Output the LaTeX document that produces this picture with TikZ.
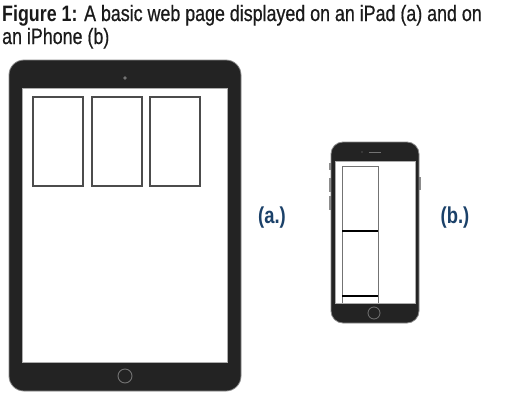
\documentclass[tikz,border=0pt]{standalone}
\usepackage{fontspec}
\setmainfont{Liberation Sans}[FakeStretch=0.80]
\newfontfamily\ttlfont{Liberation Sans}[FakeStretch=0.80, FakeBold=0.6, BoldFeatures={FakeBold=0}]
\newfontfamily\lblfont{Liberation Sans}[FakeStretch=0.80]
\definecolor{body}{HTML}{232323}
\definecolor{rim}{HTML}{8A8A8A}
\definecolor{lbl}{HTML}{1B4169}
\definecolor{ttl}{HTML}{1A1A1A}
\tikzset{
  device/.style={fill=body, draw=rim, line width=0.8pt},
  screen/.style={fill=white, draw=rim!70, line width=0.6pt},
  pane/.style={draw=black!70, line width=1.1pt},
  divider/.style={draw=black, line width=1.6pt},
  btn/.style={draw=black!55, line width=0.9pt},
  sidebtn/.style={draw=black!45, line width=1.4pt},
  label/.style={text=lbl, font=\lblfont\bfseries\fontsize{23}{26}\selectfont, inner sep=0pt},
  title/.style={text=ttl, font=\ttlfont\fontsize{22.3}{26}\selectfont, inner sep=0pt, anchor=base west}
}
\begin{document}
\begin{tikzpicture}[x=1pt,y=-1pt]
\useasboundingbox[fill=white] (0,0) rectangle (515,400);
% title
\node[title] (t1) at (2,21) {\textbf{Figure 1:} A basic web page displayed on an iPad (a) and on};
\node[title] (t2) at (2,44) {an iPhone (b)};
% iPad
\draw[device, rounded corners=15pt] (9,60) rectangle (241,391);
\draw[screen] (22,88) rectangle (227,362);
\fill[black!55] (125,78) circle (1.8pt);
\draw[btn] (125,376) circle (7pt);
\draw[pane] (33,97) rectangle (83,186);
\draw[pane] (92,97) rectangle (142,186);
\draw[pane] (150,97) rectangle (200,186);
% iPhone
\draw[sidebtn] (330,163) -- (330,170);
\draw[sidebtn] (330,178) -- (330,192);
\draw[sidebtn] (330,196) -- (330,210);
\draw[sidebtn] (420,177) -- (420,190);
\draw[device, rounded corners=12pt] (331,142) rectangle (419,323);
\draw[screen] (335,161) rectangle (415,303);
\draw[line width=1pt, black!55] (369,152) -- (381,152);
\fill[black!50] (362,152) circle (0.6pt);
\draw[btn, line width=0.8pt] (374,313) circle (6pt);
\draw[draw=black!55, line width=1pt] (342,303) -- (342,166) -- (378,166) -- (378,303);
\draw[divider] (342,231) -- (378,231);
\draw[divider] (342,296) -- (378,296);
% labels
\node[label] (a) at (272,218) {(a.)};
\node[label] (b) at (455,218) {(b.)};
\end{tikzpicture}
\end{document}
